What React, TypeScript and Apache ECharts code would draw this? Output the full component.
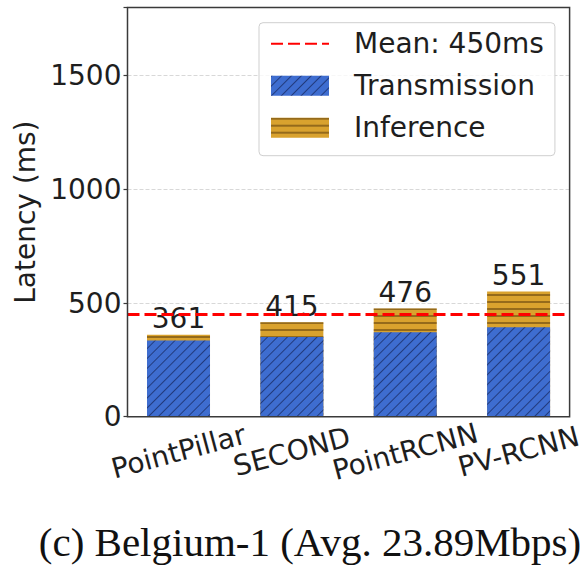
import React, { useEffect, useRef } from 'react';
import * as echarts from 'echarts';

const categories = ['PointPillar', 'SECOND', 'PointRCNN', 'PV-RCNN'];
const transmission = [335, 351, 371, 393];
const inference = [26, 64, 105, 158];
const meanLatency = 450;
const meanLabel = 'Mean: 450ms';
const yTickValues = [0, 500, 1000, 1500];
const caption = '(c) Belgium-1 (Avg. 23.89Mbps)';

export default function App() {
  const ref = useRef<HTMLDivElement>(null);
  useEffect(() => {
    document.body.style.margin = '0';
    const chart = echarts.init(ref.current!, null, { renderer: 'svg' });
    const font = 'DejaVu Sans';
    const textColor = '#1e1e1e';
    const pos = categories.map((_, i) => i);
    // stacked total (transmission + inference) drawn behind the transmission bar
    const totals = pos.map((i) => transmission[i] + inference[i]);
    chart.setOption({
      animation: false,
      grid: {
        left: 127.5,
        right: 11,
        top: 7.5,
        bottom: 148.3,
        show: true,
        z: 10,
        borderColor: '#3a3a3a',
        borderWidth: 1.5,
        backgroundColor: 'transparent',
      },
      xAxis: {
        type: 'value',
        min: -0.45,
        max: 3.45,
        axisLine: { show: false, onZero: false },
        splitLine: { show: false },
        axisTick: { show: false },
        axisLabel: {
          customValues: pos,
          formatter: (v: number) => categories[Math.round(v)],
          rotate: 15,
          align: 'center',
          verticalAlign: 'middle',
          margin: 35,
          fontFamily: font,
          fontSize: 28,
          color: textColor,
        },
      },
      yAxis: {
        type: 'value',
        min: 0,
        max: 1800,
        interval: 500,
        name: 'Latency (ms)',
        nameLocation: 'middle',
        nameGap: 72,
        nameTextStyle: { fontFamily: font, fontSize: 28, color: textColor },
        axisLine: { show: false, onZero: false },
        axisTick: {
          show: true,
          length: 4,
          lineStyle: { color: '#3a3a3a', width: 1.2 },
        },
        axisLabel: {
          customValues: yTickValues,
          formatter: (v: number) => String(v),
          margin: 6,
          fontFamily: font,
          fontSize: 28,
          color: textColor,
        },
        splitLine: {
          show: true,
          lineStyle: { color: '#d8d8d8', type: 'dashed', width: 1 },
        },
      },
      legend: {
        orient: 'vertical',
        left: 259,
        top: 22.7,
        data: [
          { name: meanLabel, itemStyle: { opacity: 0 } },
          { name: 'Transmission', icon: 'rect' },
          { name: 'Inference', icon: 'rect' },
        ],
        itemWidth: 58,
        itemHeight: 20,
        itemGap: 14,
        padding: [7, 11, 14, 11],
        backgroundColor: 'rgba(255,255,255,0.8)',
        borderColor: '#cfcfcf',
        borderWidth: 1,
        borderRadius: 4,
        textStyle: {
          fontFamily: font,
          fontSize: 28,
          color: textColor,
          padding: [0, 0, 0, 20],
        },
      },
      series: [
        {
          name: meanLabel,
          type: 'line',
          data: [],
          symbol: 'none',
          z: 5,
          lineStyle: { color: '#ff0000', width: 3.2, type: [12, 5] },
          itemStyle: { color: '#ff0000' },
          markLine: {
            silent: true,
            symbol: 'none',
            label: { show: false },
            lineStyle: { color: '#ff0000', width: 3.2, type: [12, 5] },
            data: [{ yAxis: meanLatency }],
          },
        },
        {
          name: 'Inference',
          type: 'bar',
          barWidth: 63,
          barGap: '-100%',
          z: 2,
          data: pos.map((i) => [i, totals[i]]),
          itemStyle: {
            color: '#d9a22e',
            decal: {
              symbol: 'rect',
              symbolSize: 1,
              dashArrayX: [1, 0],
              dashArrayY: [2, 5],
              rotation: 0,
              color: 'rgba(90,60,10,0.55)',
            },
          },
          label: {
            show: true,
            position: 'top',
            distance: 2,
            formatter: (p: any) => String(totals[p.dataIndex]),
            fontFamily: font,
            fontSize: 28,
            color: textColor,
          },
        },
        {
          name: 'Transmission',
          type: 'bar',
          barWidth: 63,
          barGap: '-100%',
          z: 3,
          data: pos.map((i) => [i, transmission[i]]),
          itemStyle: {
            color: '#3e6dd0',
            decal: {
              symbol: 'rect',
              symbolSize: 1,
              dashArrayX: [1, 0],
              dashArrayY: [1, 6],
              rotation: -Math.PI / 4,
              color: 'rgba(15,25,70,0.6)',
            },
          },
        },
      ],
      graphic: [
        {
          type: 'text',
          x: 310,
          y: 542,
          style: {
            text: caption,
            font: '41px "Liberation Serif"',
            textAlign: 'center',
            textVerticalAlign: 'middle',
            fill: '#111111',
          },
        },
      ],
    });
    return () => chart.dispose();
  }, []);
  return <div ref={ref} style={{ width: 585, height: 565 }} />;
}
